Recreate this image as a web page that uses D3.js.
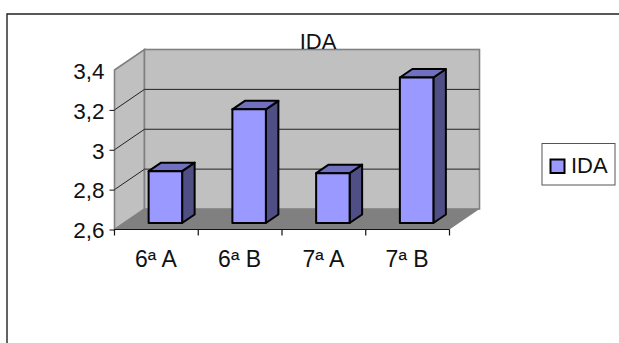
<!DOCTYPE html>
<html>

<head>
  <meta charset="utf-8">
  <script src="https://d3js.org/d3.v7.min.js"></script>
  <style>
    body {
      margin: 0;
      background: white;
    }

    svg {
      display: block;
    }

    text {
      font-family: "Liberation Sans", Arial, sans-serif;
      font-size: 22px;
      fill: #111;
    }
  </style>
</head>

<body>
  <svg id="chart" width="619" height="343"></svg>
  <script>
    const categories = ["6ª A", "6ª B", "7ª A", "7ª B"];
    const seriesName = "IDA";
    const seriesValues = [2.86, 3.17, 2.85, 3.33];
    const tickValues = [2.6, 2.8, 3, 3.2, 3.4];

    const svg = d3.select("svg#chart");

    // front plane of the box, and how far the back wall is pushed
    const plot = { left: 114.5, right: 449.5, top: 70, bottom: 229.5 };
    const wallDepth = { x: 30, y: 20.5 };
    // bars stand part way into the floor and have their own depth
    const barOffset = { x: 9, y: 6.5 };
    const barDepth = { x: 12.5, y: 8.5 };

    const xScale = d3.scaleBand(categories, [plot.left, plot.right])
      .paddingInner(0.6)
      .paddingOuter(0.3);
    const xEdges = d3.scaleBand(categories, [plot.left, plot.right]);
    const yScale = d3.scaleLinear([2.6, 3.4], [plot.bottom, plot.top]);

    const poly = pts => "M" + pts.map(p => p.join(",")).join("L") + "Z";

    // outer frame, runs off the right and bottom of the page
    svg.append("path")
      .attr("d", "M7,343V14H619")
      .attr("fill", "none")
      .attr("stroke", "#222")
      .attr("stroke-width", 1.4);

    // side wall, back wall, floor
    let box = svg.append("g");
    box.append("path")
      .attr("d", poly([
        [plot.left, plot.top],
        [plot.left + wallDepth.x, plot.top - wallDepth.y],
        [plot.left + wallDepth.x, plot.bottom - wallDepth.y],
        [plot.left, plot.bottom]]))
      .attr("fill", "#c0c0c0")
      .attr("stroke", "#808080")
      .attr("stroke-width", 1.6);
    box.append("rect")
      .attr("x", plot.left + wallDepth.x)
      .attr("y", plot.top - wallDepth.y)
      .attr("width", plot.right - plot.left)
      .attr("height", plot.bottom - plot.top)
      .attr("fill", "#c0c0c0")
      .attr("stroke", "#808080")
      .attr("stroke-width", 1.6);
    box.append("path")
      .attr("d", poly([
        [plot.left, plot.bottom],
        [plot.right, plot.bottom],
        [plot.right + wallDepth.x, plot.bottom - wallDepth.y],
        [plot.left + wallDepth.x, plot.bottom - wallDepth.y]]))
      .attr("fill", "#808080");

    // grid lines bend around the corner of the box
    let gridValues = tickValues.filter(v => v > 2.6 && v < 3.4);
    svg.append("g").selectAll("path").data(gridValues)
      .join("path")
      .attr("d", d => `M${plot.left},${yScale(d)}l${wallDepth.x},${-wallDepth.y}H${plot.right + wallDepth.x}`)
      .attr("fill", "none")
      .attr("stroke", "#222")
      .attr("stroke-width", 1);

    // bars
    let bars = svg.append("g").selectAll("g")
      .data(categories.map((c, i) => ({ category: c, value: seriesValues[i] })))
      .join("g")
      .attr("stroke", "black")
      .attr("stroke-width", 2)
      .attr("stroke-linejoin", "round");

    const barX0 = d => xScale(d.category) + barOffset.x;
    const barX1 = d => barX0(d) + xScale.bandwidth();
    const barTop = d => yScale(d.value) - barOffset.y;
    const barBottom = plot.bottom - barOffset.y;

    bars.append("path")
      .attr("fill", "#4f4f85")
      .attr("d", d => poly([
        [barX1(d), barTop(d)],
        [barX1(d) + barDepth.x, barTop(d) - barDepth.y],
        [barX1(d) + barDepth.x, barBottom - barDepth.y],
        [barX1(d), barBottom]]));
    bars.append("path")
      .attr("fill", "#7070bf")
      .attr("d", d => poly([
        [barX0(d), barTop(d)],
        [barX1(d), barTop(d)],
        [barX1(d) + barDepth.x, barTop(d) - barDepth.y],
        [barX0(d) + barDepth.x, barTop(d) - barDepth.y]]));
    bars.append("rect")
      .attr("fill", "#9999ff")
      .attr("x", barX0)
      .attr("y", barTop)
      .attr("width", xScale.bandwidth())
      .attr("height", d => barBottom - barTop(d));

    // axes
    let leftAxis = d3.axisLeft(yScale)
      .tickValues(tickValues)
      .tickSize(5)
      .tickPadding(5)
      .tickFormat(d => String(d).replace(".", ","));
    let leftG = svg.append("g")
      .attr("transform", `translate(${plot.left},0)`)
      .call(leftAxis);
    leftG.select(".domain").remove();
    leftG.selectAll("line").attr("stroke", "#111");
    leftG.selectAll(".tick").filter(d => d === 3.4).select("line").remove();
    leftG.selectAll("text")
      .attr("dy", "0.37em")
      .style("font-size", "22.5px")
      .style("font-family", '"Liberation Sans", Arial, sans-serif')
      .attr("fill", "#111");

    let bottomAxis = d3.axisBottom(xScale)
      .tickSize(0)
      .tickPadding(21);
    let bottomG = svg.append("g")
      .attr("transform", `translate(-0.5,${plot.bottom})`)
      .call(bottomAxis);
    bottomG.select(".domain").remove();
    bottomG.selectAll("text")
      .style("font-size", "23px")
      .style("font-family", '"Liberation Sans", Arial, sans-serif')
      .attr("fill", "#111");

    svg.append("line")
      .attr("x1", plot.left).attr("x2", plot.right)
      .attr("y1", plot.bottom).attr("y2", plot.bottom)
      .attr("stroke", "#111")
      .attr("stroke-width", 1.2);
    svg.append("g").selectAll("line")
      .data(categories.map(c => xEdges(c)).concat([plot.right]))
      .join("line")
      .attr("x1", d => d).attr("x2", d => d)
      .attr("y1", plot.bottom).attr("y2", plot.bottom + 6)
      .attr("stroke", "#111")
      .attr("stroke-width", 1.2);

    // title
    svg.append("text")
      .text(seriesName)
      .attr("x", 318)
      .attr("y", 48.5)
      .style("text-anchor", "middle");

    // legend
    let legendG = svg.append("g");
    legendG.append("rect")
      .attr("x", 542).attr("y", 143.5)
      .attr("width", 73).attr("height", 41.5)
      .attr("fill", "white")
      .attr("stroke", "#555")
      .attr("stroke-width", 1);
    legendG.append("rect")
      .attr("x", 550.5).attr("y", 159.5)
      .attr("width", 14).attr("height", 13.5)
      .attr("fill", "#9999ff")
      .attr("stroke", "black")
      .attr("stroke-width", 2);
    legendG.append("text")
      .text(seriesName)
      .attr("x", 571)
      .attr("y", 173);
  </script>
</body>

</html>
